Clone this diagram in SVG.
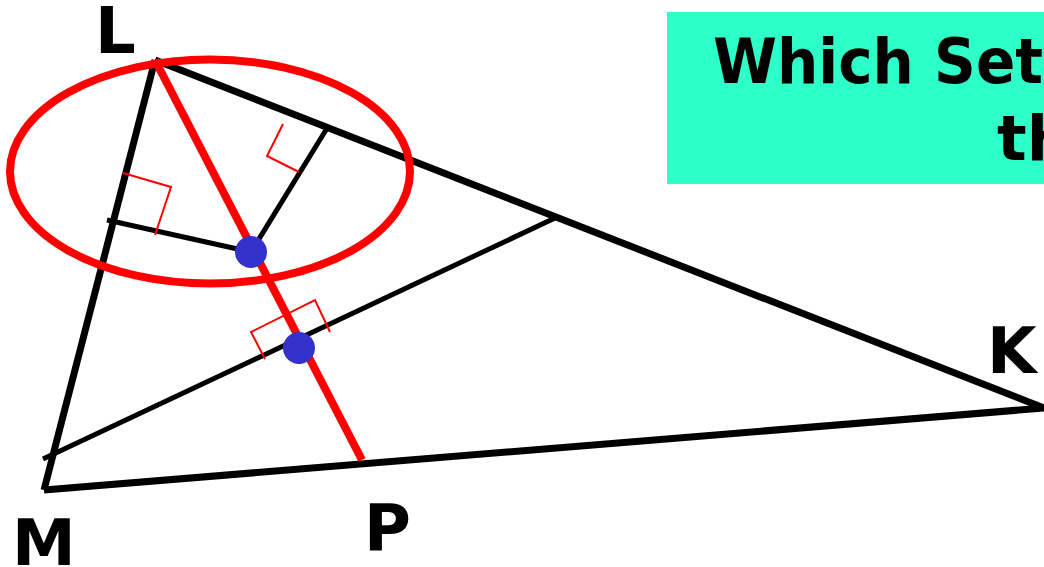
<svg xmlns="http://www.w3.org/2000/svg" width="1044" height="567" viewBox="0 0 1044 567">
<style>
.lbl{font-family:"DejaVu Sans",sans-serif;font-weight:bold;font-size:64px;fill:#000}
.ttl{font-family:"DejaVu Sans","Liberation Sans",sans-serif;font-weight:bold;font-size:62px;fill:#000}
.side{stroke:#000;stroke-width:7;fill:none;stroke-linecap:butt}
.seg{stroke:#000;stroke-width:5;fill:none}
.red{stroke:#ff0000;stroke-width:8;fill:none}
.ra{stroke:#ff0000;stroke-width:2;fill:none}
.dot{fill:#3333cc}
</style>
<rect width="1044" height="567" fill="#fff"/>
<g id="title">
<rect x="667" y="12" width="377" height="172" fill="#2effc8"/>
<text class="ttl" x="713" y="83" textLength="330" lengthAdjust="spacingAndGlyphs">Which Set</text>
<text class="ttl" x="997" y="160">th</text>
</g>
<g id="connectors">
<line class="side" x1="155" y1="60" x2="44" y2="490"/>
<line class="side" x1="155" y1="60" x2="1044" y2="408"/>
<line class="side" x1="44" y1="490" x2="1044" y2="408"/>
<line class="seg" x1="43" y1="459" x2="555" y2="218"/>
<line class="seg" x1="107" y1="220" x2="251" y2="252"/>
<line class="seg" x1="329" y1="125" x2="251" y2="252"/>
<line class="red" x1="155" y1="60" x2="362" y2="460"/>
<polyline class="ra" points="123,173 171,187 155,235"/>
<polyline class="ra" points="283,124 267,156 299,172"/>
<polyline class="ra" points="265,359 251,332 315,300 330,332"/>
</g>
<g id="circle">
<ellipse cx="210" cy="171.5" rx="200" ry="112" stroke="#ff0000" stroke-width="8" fill="none"/>
</g>
<g id="incenter"><circle class="dot" cx="251" cy="252" r="16"/></g>
<g id="point2"><circle class="dot" cx="299" cy="348" r="16"/></g>
<g id="L"><text class="lbl" x="95" y="53">L</text></g>
<g id="M"><text class="lbl" x="12" y="565">M</text></g>
<g id="P"><text class="lbl" x="364" y="550">P</text></g>
<g id="K"><text class="lbl" x="987" y="373">K</text></g>
</svg>
